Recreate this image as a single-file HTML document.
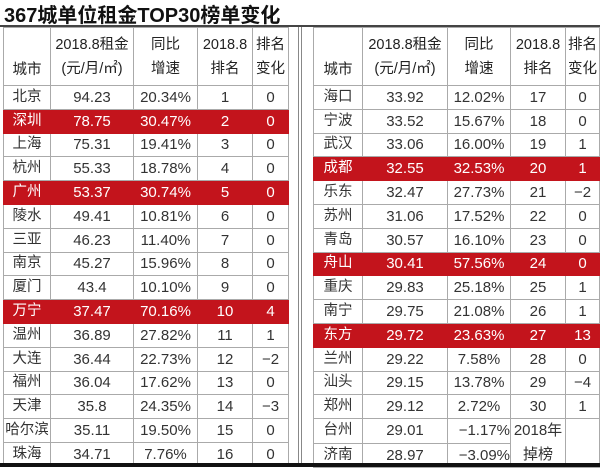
<!DOCTYPE html><html><head><meta charset="utf-8"><style>
body{margin:0;width:600px;height:467px;background:#fff;position:relative;overflow:hidden;font-family:"Liberation Sans","Noto Sans CJK SC",sans-serif;color:#333}
.t{position:absolute;left:4px;top:-1px;font-size:20px;font-weight:bold;color:#111;letter-spacing:0px}
table{position:absolute;border-collapse:collapse;top:27px;table-layout:fixed}
td{border:1px solid #aaa;text-align:center;font-size:15px;height:22.8px;padding:0;line-height:15px;white-space:nowrap;overflow:hidden}
tr.h td{height:54px;font-size:14.5px;line-height:24px;color:#222}
tr.r td{background:#c3141c;color:#fff;border-color:#c3141c}
td.c{font-size:14.5px}
.bar{position:absolute;left:0;top:463px;width:600px;height:4px;background:#111}
.top{position:absolute;left:0;top:25px;width:600px;height:2px;background:#444}
.dl{position:absolute;top:27px;height:436px;left:298px;width:2px;border-left:1px solid #888;border-right:1px solid #888}
</style></head><body>
<div class="t">367城单位租金TOP30榜单变化</div>
<div class="top"></div>
<table style="left:3px;width:285px"><colgroup><col style="width:47px"><col style="width:83px"><col style="width:64px"><col style="width:55px"><col style="width:36px"></colgroup>
<tr class="h"><td style="vertical-align:bottom;padding-bottom:3px">城市</td><td>2018.8租金<br>(元/月/㎡)</td><td>同比<br>增速</td><td>2018.8<br>排名</td><td>排名<br>变化</td></tr>
<tr><td class="c">北京</td><td>94.23</td><td>20.34%</td><td>1</td><td>0</td></tr>
<tr class="r"><td class="c">深圳</td><td>78.75</td><td>30.47%</td><td>2</td><td>0</td></tr>
<tr><td class="c">上海</td><td>75.31</td><td>19.41%</td><td>3</td><td>0</td></tr>
<tr><td class="c">杭州</td><td>55.33</td><td>18.78%</td><td>4</td><td>0</td></tr>
<tr class="r"><td class="c">广州</td><td>53.37</td><td>30.74%</td><td>5</td><td>0</td></tr>
<tr><td class="c">陵水</td><td>49.41</td><td>10.81%</td><td>6</td><td>0</td></tr>
<tr><td class="c">三亚</td><td>46.23</td><td>11.40%</td><td>7</td><td>0</td></tr>
<tr><td class="c">南京</td><td>45.27</td><td>15.96%</td><td>8</td><td>0</td></tr>
<tr><td class="c">厦门</td><td>43.4</td><td>10.10%</td><td>9</td><td>0</td></tr>
<tr class="r"><td class="c">万宁</td><td>37.47</td><td>70.16%</td><td>10</td><td>4</td></tr>
<tr><td class="c">温州</td><td>36.89</td><td>27.82%</td><td>11</td><td>1</td></tr>
<tr><td class="c">大连</td><td>36.44</td><td>22.73%</td><td>12</td><td>−2</td></tr>
<tr><td class="c">福州</td><td>36.04</td><td>17.62%</td><td>13</td><td>0</td></tr>
<tr><td class="c">天津</td><td>35.8</td><td>24.35%</td><td>14</td><td>−3</td></tr>
<tr><td class="c">哈尔滨</td><td>35.11</td><td>19.50%</td><td>15</td><td>0</td></tr>
<tr><td class="c">珠海</td><td>34.71</td><td>7.76%</td><td>16</td><td>0</td></tr>
</table>
<div class="dl"></div>
<table style="left:313px;width:286px"><colgroup><col style="width:49px"><col style="width:85px"><col style="width:63px"><col style="width:55px"><col style="width:34px"></colgroup>
<tr class="h"><td style="vertical-align:bottom;padding-bottom:3px">城市</td><td>2018.8租金<br>(元/月/㎡)</td><td>同比<br>增速</td><td>2018.8<br>排名</td><td>排名<br>变化</td></tr>
<tr><td class="c">海口</td><td>33.92</td><td>12.02%</td><td>17</td><td>0</td></tr>
<tr><td class="c">宁波</td><td>33.52</td><td>15.67%</td><td>18</td><td>0</td></tr>
<tr><td class="c">武汉</td><td>33.06</td><td>16.00%</td><td>19</td><td>1</td></tr>
<tr class="r"><td class="c">成都</td><td>32.55</td><td>32.53%</td><td>20</td><td>1</td></tr>
<tr><td class="c">乐东</td><td>32.47</td><td>27.73%</td><td>21</td><td>−2</td></tr>
<tr><td class="c">苏州</td><td>31.06</td><td>17.52%</td><td>22</td><td>0</td></tr>
<tr><td class="c">青岛</td><td>30.57</td><td>16.10%</td><td>23</td><td>0</td></tr>
<tr class="r"><td class="c">舟山</td><td>30.41</td><td>57.56%</td><td>24</td><td>0</td></tr>
<tr><td class="c">重庆</td><td>29.83</td><td>25.18%</td><td>25</td><td>1</td></tr>
<tr><td class="c">南宁</td><td>29.75</td><td>21.08%</td><td>26</td><td>1</td></tr>
<tr class="r"><td class="c">东方</td><td>29.72</td><td>23.63%</td><td>27</td><td>13</td></tr>
<tr><td class="c">兰州</td><td>29.22</td><td>7.58%</td><td>28</td><td>0</td></tr>
<tr><td class="c">汕头</td><td>29.15</td><td>13.78%</td><td>29</td><td>−4</td></tr>
<tr><td class="c">郑州</td><td>29.12</td><td>2.72%</td><td>30</td><td>1</td></tr>
<tr><td class="c">台州</td><td>29.01</td><td style="text-align:right">−1.17%</td><td rowspan="2" style="line-height:24px">2018年<br>掉榜</td><td rowspan="2"></td></tr>
<tr><td class="c">济南</td><td>28.97</td><td style="text-align:right">−3.09%</td></tr>
</table>
<div class="bar"></div>
</body></html>
